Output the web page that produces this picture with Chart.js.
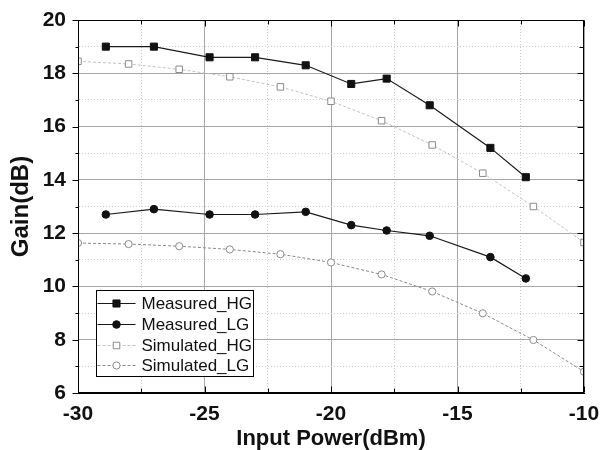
<!DOCTYPE html>
<html>
<head>
<meta charset="utf-8">
<script src="https://cdn.jsdelivr.net/npm/chart.js@4/dist/chart.umd.min.js"></script>
<style>
    html, body { margin: 0; padding: 0; background: #fff; }
    #wrap { width: 608px; height: 450px; }
</style>
</head>
<body>
<div id="wrap"><canvas id="chart" width="608" height="450"></canvas></div>
<script>
// measured points (dBm / dB)
const measuredPower = [ -28.9, -27.0, -24.8, -23.0, -21.0, -19.2, -17.8, -16.1, -13.7, -12.3 ];
const measuredHG = [ 19.0, 19.0, 18.6, 18.6, 18.3, 17.6, 17.8, 16.8, 15.2, 14.1 ];
const measuredLG = [ 12.7, 12.9, 12.7, 12.7, 12.8, 12.3, 12.1, 11.9, 11.1, 10.3 ];

// simulated points
const simulatedPower = [ -30, -28, -26, -24, -22, -20, -18, -16, -14, -12, -10 ];
const simulatedHG = [ 18.45, 18.35, 18.15, 17.87, 17.49, 16.95, 16.22, 15.31, 14.25, 13.0, 11.65 ];
const simulatedLG = [ 11.63, 11.59, 11.51, 11.39, 11.21, 10.9, 10.45, 9.81, 8.99, 7.99, 6.8 ];

const seriesLabels = [ 'Measured_HG', 'Measured_LG', 'Simulated_HG', 'Simulated_LG' ];

function ready( fn ) {
    if ( document.readyState !== 'loading' ){
        fn();
    } else {
        document.addEventListener( 'DOMContentLoaded', fn );
    }
}

function toPoints( xs, ys ){
    return xs.map( ( x, i ) => ( { x: x, y: ys[i] } ) );
}

ready( function(){
    Chart.defaults.font.family = '"Liberation Sans", Arial, sans-serif';
    Chart.defaults.color = '#111';

    const isMajorX = v => Math.abs( v % 5 ) < 1e-6;
    const isMajorY = v => Math.abs( v % 2 ) < 1e-6;

    function markerAt( ctx, style, r, x, y ){
        ctx.beginPath();
        if ( style === 'rect' ){
            const s = r * Math.SQRT1_2;
            ctx.rect( x - s, y - s, 2 * s, 2 * s );
        } else {
            ctx.arc( x, y, r, 0, Math.PI * 2 );
        }
        ctx.fill();
        ctx.stroke();
    }

    // scales should not push the plot area around, layout.padding does that
    function noScalePadding( scale ){
        scale.paddingTop = 0;
        scale.paddingBottom = 0;
        scale.paddingLeft = 0;
        scale.paddingRight = 0;
    }

    // box, inward ticks and the legend
    const framePlugin = {
        id: 'frame',
        afterDraw( chart ){
            const { ctx, chartArea: a, scales } = chart;
            const L = Math.round( a.left ) + 0.5, R = Math.round( a.right ) - 0.5;
            const T = Math.round( a.top ) + 0.5, B = Math.round( a.bottom ) - 0.5;
            ctx.save();
            ctx.strokeStyle = '#000';
            ctx.lineWidth = 1;
            ctx.setLineDash( [] );
            ctx.strokeRect( L, T, R - L, B - T );

            ctx.beginPath();
            scales.x.ticks.forEach( t => {
                const px = Math.round( scales.x.getPixelForValue( t.value ) ) + 0.5;
                const len = isMajorX( t.value ) ? 6 : 4;
                ctx.moveTo( px, B ); ctx.lineTo( px, B - len );
                ctx.moveTo( px, T ); ctx.lineTo( px, T + len );
            } );
            scales.y.ticks.forEach( t => {
                const py = Math.round( scales.y.getPixelForValue( t.value ) ) + 0.5;
                const len = isMajorY( t.value ) ? 6 : 3;
                ctx.moveTo( L - len, py ); ctx.lineTo( L, py );
                ctx.moveTo( R, py ); ctx.lineTo( R - ( isMajorY( t.value ) ? 6 : 4 ), py );
            } );
            ctx.stroke();

            // legend
            const bx = 96.5, by = 290.5, bw = 157, bh = 86;
            ctx.fillStyle = '#fff';
            ctx.fillRect( bx, by, bw, bh );
            ctx.strokeRect( bx, by, bw, bh );
            ctx.font = '17px "Liberation Sans", Arial, sans-serif';
            ctx.textBaseline = 'middle';
            chart.data.datasets.forEach( ( ds, i ) => {
                const y = Math.round( by + 12.5 + i * 20.8 ) + 0.5;
                ctx.strokeStyle = ds.borderColor;
                ctx.lineWidth = ds.borderWidth;
                ctx.setLineDash( ds.borderDash || [] );
                ctx.beginPath();
                ctx.moveTo( bx + 1, y ); ctx.lineTo( bx + 39, y );
                ctx.stroke();
                ctx.setLineDash( [] );
                ctx.lineWidth = 1;
                ctx.fillStyle = ds.pointBackgroundColor;
                ctx.strokeStyle = ds.pointBorderColor;
                markerAt( ctx, ds.pointStyle, ds.pointRadius, bx + 20, y );
                ctx.fillStyle = '#111';
                ctx.fillText( ds.label, bx + 45, y + 1 );
            } );
            ctx.restore();
        }
    };

    const data = {
        datasets: [
            {
                label: seriesLabels[0],
                data: toPoints( measuredPower, measuredHG ),
                borderColor: '#1a1a1a',
                borderWidth: 1.2,
                pointStyle: 'rect',
                pointRadius: 5,
                pointBackgroundColor: '#111',
                pointBorderColor: '#111',
                pointBorderWidth: 1
            },
            {
                label: seriesLabels[1],
                data: toPoints( measuredPower, measuredLG ),
                borderColor: '#1a1a1a',
                borderWidth: 1.2,
                pointStyle: 'circle',
                pointRadius: 3.8,
                pointBackgroundColor: '#111',
                pointBorderColor: '#111',
                pointBorderWidth: 1
            },
            {
                label: seriesLabels[2],
                data: toPoints( simulatedPower, simulatedHG ),
                borderColor: '#c4c4c4',
                borderWidth: 1,
                borderDash: [ 3, 2 ],
                pointStyle: 'rect',
                pointRadius: 4.6,
                pointBackgroundColor: '#fff',
                pointBorderColor: '#8c8c8c',
                pointBorderWidth: 1,
                clip: 0
            },
            {
                label: seriesLabels[3],
                data: toPoints( simulatedPower, simulatedLG ),
                borderColor: '#8a8a8a',
                borderWidth: 1,
                borderDash: [ 3, 2 ],
                pointStyle: 'circle',
                pointRadius: 3.6,
                pointBackgroundColor: '#fff',
                pointBorderColor: '#8c8c8c',
                pointBorderWidth: 1,
                clip: 0
            }
        ]
    };

    const config = {
        type: 'line',
        data: data,
        options: {
            responsive: false,
            animation: false,
            layout: {
                padding: { left: 0, right: 24, top: 20, bottom: 0 }
            },
            scales: {
                x: {
                    type: 'linear',
                    min: -30,
                    max: -10,
                    afterFit: function( scale ){
                        scale.height = 57;
                        noScalePadding( scale );
                    },
                    ticks: {
                        stepSize: 2.5,
                        autoSkip: false,
                        maxRotation: 0,
                        padding: 9,
                        font: { size: 21, weight: 'bold' },
                        callback: function( value ){
                            return isMajorX( value ) ? String( value ) : '';
                        }
                    },
                    grid: {
                        drawTicks: false,
                        color: ctx => ( ctx.tick && isMajorX( ctx.tick.value ) ) ? '#a6a6a6' : '#cfcfcf',
                        lineWidth: 1
                    },
                    border: {
                        color: '#000',
                        width: 1,
                        dash: ctx => ( ctx.tick && !isMajorX( ctx.tick.value ) ) ? [ 1, 2 ] : []
                    },
                    title: {
                        display: true,
                        text: 'Input Power(dBm)',
                        font: { size: 22, weight: 'bold', lineHeight: 1 },
                        padding: { top: 0, bottom: 0 }
                    }
                },
                y: {
                    min: 6,
                    max: 20,
                    afterFit: function( scale ){
                        scale.width = 78;
                        noScalePadding( scale );
                    },
                    ticks: {
                        stepSize: 1,
                        autoSkip: false,
                        padding: 12,
                        font: { size: 21, weight: 'bold' },
                        callback: function( value ){
                            return isMajorY( value ) ? String( value ) : '';
                        }
                    },
                    grid: {
                        drawTicks: false,
                        color: ctx => ( ctx.tick && isMajorY( ctx.tick.value ) ) ? '#a6a6a6' : '#cfcfcf',
                        lineWidth: 1
                    },
                    border: {
                        color: '#000',
                        width: 1,
                        dash: ctx => ( ctx.tick && !isMajorY( ctx.tick.value ) ) ? [ 1, 2 ] : []
                    },
                    title: {
                        display: true,
                        text: 'Gain(dB)',
                        font: { size: 24, weight: 'bold', lineHeight: 1 },
                        padding: { top: 9, bottom: 0 }
                    }
                }
            },
            plugins: {
                legend: { display: false },
                tooltip: { enabled: false }
            }
        },
        plugins: [ framePlugin ]
    };

    new Chart( document.getElementById( 'chart' ), config );
} );
</script>
</body>
</html>
